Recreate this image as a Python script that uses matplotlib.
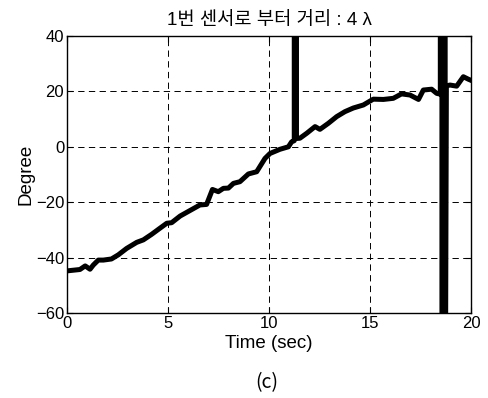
import matplotlib
matplotlib.use('Agg')
import matplotlib.pyplot as plt

plt.rcParams.update({
    'font.family': ['Liberation Sans', 'Noto Sans CJK KR', 'DejaVu Sans'],
    'font.size': 12,
    'axes.linewidth': 1.0,
    'xtick.direction': 'in', 'ytick.direction': 'in',
    'xtick.top': True, 'ytick.right': True,
    'xtick.major.size': 4, 'ytick.major.size': 4,
})

# angle estimate vs time (spikes go beyond the axis limits)
time_s = [0.0, 0.64, 0.9, 1.14, 1.3, 1.55, 1.8, 2.2, 2.54, 2.95, 3.45, 3.78, 4.19,
          4.6, 4.94, 5.18, 5.6, 6.09, 6.58, 6.91, 7.2, 7.49, 7.74, 7.99, 8.24, 8.56,
          8.98, 9.39, 9.8, 10.05, 10.54, 10.96, 11.12, 11.25, 11.25, 11.36, 11.36,
          11.53, 11.87, 12.28, 12.52, 12.94, 13.35, 13.76, 14.17, 14.67, 15.16, 15.66,
          16.15, 16.56, 16.98, 17.4, 17.64, 18.05, 18.3, 18.48, 18.48, 18.56, 18.56,
          18.64, 18.64, 18.72, 18.72, 18.78, 18.96, 19.29, 19.62, 19.87, 20.0]
degree = [-44.8, -44.3, -43.0, -44.2, -42.7, -40.9, -40.9, -40.5, -39.0, -36.7, -34.5,
          -33.6, -31.6, -29.4, -27.6, -27.4, -25.0, -23.0, -21.0, -20.8, -15.4, -16.2,
          -15.0, -14.9, -13.2, -12.6, -9.8, -9.0, -4.2, -2.4, -0.9, 0.0, 1.8, 2.2, 90,
          90, 3.0, 3.1, 4.9, 7.3, 6.3, 8.5, 10.9, 12.7, 14.0, 15.1, 17.2, 17.1, 17.5,
          19.1, 18.7, 17.1, 20.5, 20.8, 19.3, 19.0, 120, 120, -120, -120, 120, 120,
          -120, 22.0, 22.3, 21.9, 25.3, 24.4, 24.0]

fig = plt.figure(figsize=(4.88, 3.98), dpi=100)
ax = fig.add_axes([0.1373, 0.2136, 0.8279, 0.6959])
ax.plot(time_s, degree, color='black', linewidth=3.6, solid_joinstyle='round')
ax.set_xlim(0, 20)
ax.set_ylim(-60, 40)
ax.set_xticks([0, 5, 10, 15, 20])
ax.set_yticks([-60, -40, -20, 0, 20, 40])
ax.grid(True, color='black', linestyle=(0, (6.5, 4.5)), linewidth=0.7)
ax.tick_params(pad=2)
ax.set_xlabel('Time (sec)', fontsize=13.5, labelpad=3)
ax.set_ylabel('Degree', fontsize=13.5, labelpad=1)
ax.set_title('1번 센서로 부터 거리 : 4 λ', fontsize=13.5, pad=8)
fig.text(0.546, 0.038, '(c)', ha='center', va='center', fontsize=14,
         family=['Noto Sans CJK KR'], fontweight='light')

fig.savefig('out.png', dpi=100)
